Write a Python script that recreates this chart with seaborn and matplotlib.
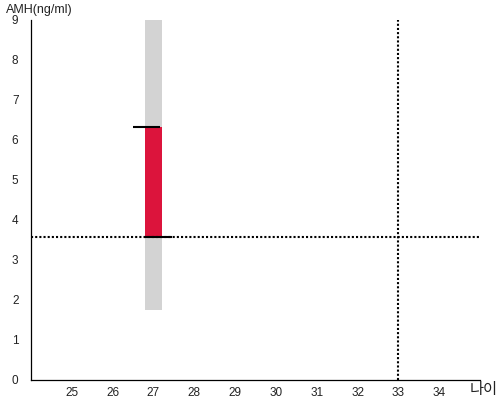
import matplotlib
matplotlib.use("Agg")
import matplotlib.pyplot as plt
import seaborn as sns
import pandas as pd

# Data
age_ticks = [25, 26, 27, 28, 29, 30, 31, 32, 33, 34]
amh_ticks = [0, 1, 2, 3, 4, 5, 6, 7, 8, 9]
range_x = [27.0]
range_low = [1.75]
range_high = [9.0]
value_low = [3.575]
value_high = [6.325]
ref_age = 33
ref_amh = 3.575

sns.set_theme(style="white")
plt.rcParams['font.family'] = ['Liberation Sans', 'Noto Sans CJK KR', 'DejaVu Sans']

fig = plt.figure(figsize=(5, 4), dpi=100)
ax = fig.add_axes([0.062, 0.05, 0.898, 0.90])

df = pd.DataFrame({"x": range_x, "lo": range_low, "hi": range_high,
                   "vlo": value_low, "vhi": value_high})

# gray range band
ax.bar(df["x"], df["hi"] - df["lo"], bottom=df["lo"], width=0.4,
       color="#d3d3d3", linewidth=0, zorder=1)
# red value band
ax.bar(df["x"], df["vhi"] - df["vlo"], bottom=df["vlo"], width=0.4,
       color="#dc143c", linewidth=0, zorder=2)
# whisker caps
for x, lo, hi in zip(df["x"], df["vlo"], df["vhi"]):
    ax.plot([x - 0.5, x + 0.17], [hi, hi], color="black", lw=1.5, zorder=3,
            solid_capstyle="butt")
    ax.plot([x - 0.22, x + 0.45], [lo, lo], color="black", lw=1.5, zorder=3,
            solid_capstyle="butt")

# reference dotted lines
ax.axhline(ref_amh, color="black", lw=1.5, linestyle=(0, (1, 1)), zorder=4)
ax.plot([ref_age, ref_age], [0, 9], color="black", lw=1.5,
        linestyle=(0, (1, 1)), zorder=4)

ax.set_xlim(24, 35)
ax.set_ylim(0, 9)
ax.set_xticks(age_ticks)
ax.set_yticks(amh_ticks)
ax.tick_params(axis="both", length=0, labelsize=8.5, colors="#222222")
ax.tick_params(axis="x", pad=5)
ax.tick_params(axis="y", pad=9)
sns.despine(ax=ax)
for s in ["left", "bottom"]:
    ax.spines[s].set_color("black")
    ax.spines[s].set_linewidth(0.9)

fig.text(0.012, 0.975, "AMH(ng/ml)", fontsize=9, ha="left", va="center", color="#222222")
fig.text(0.995, 0.025, "나이", fontsize=11, ha="right", va="center", color="#222222")

fig.savefig("out.png", dpi=100)
